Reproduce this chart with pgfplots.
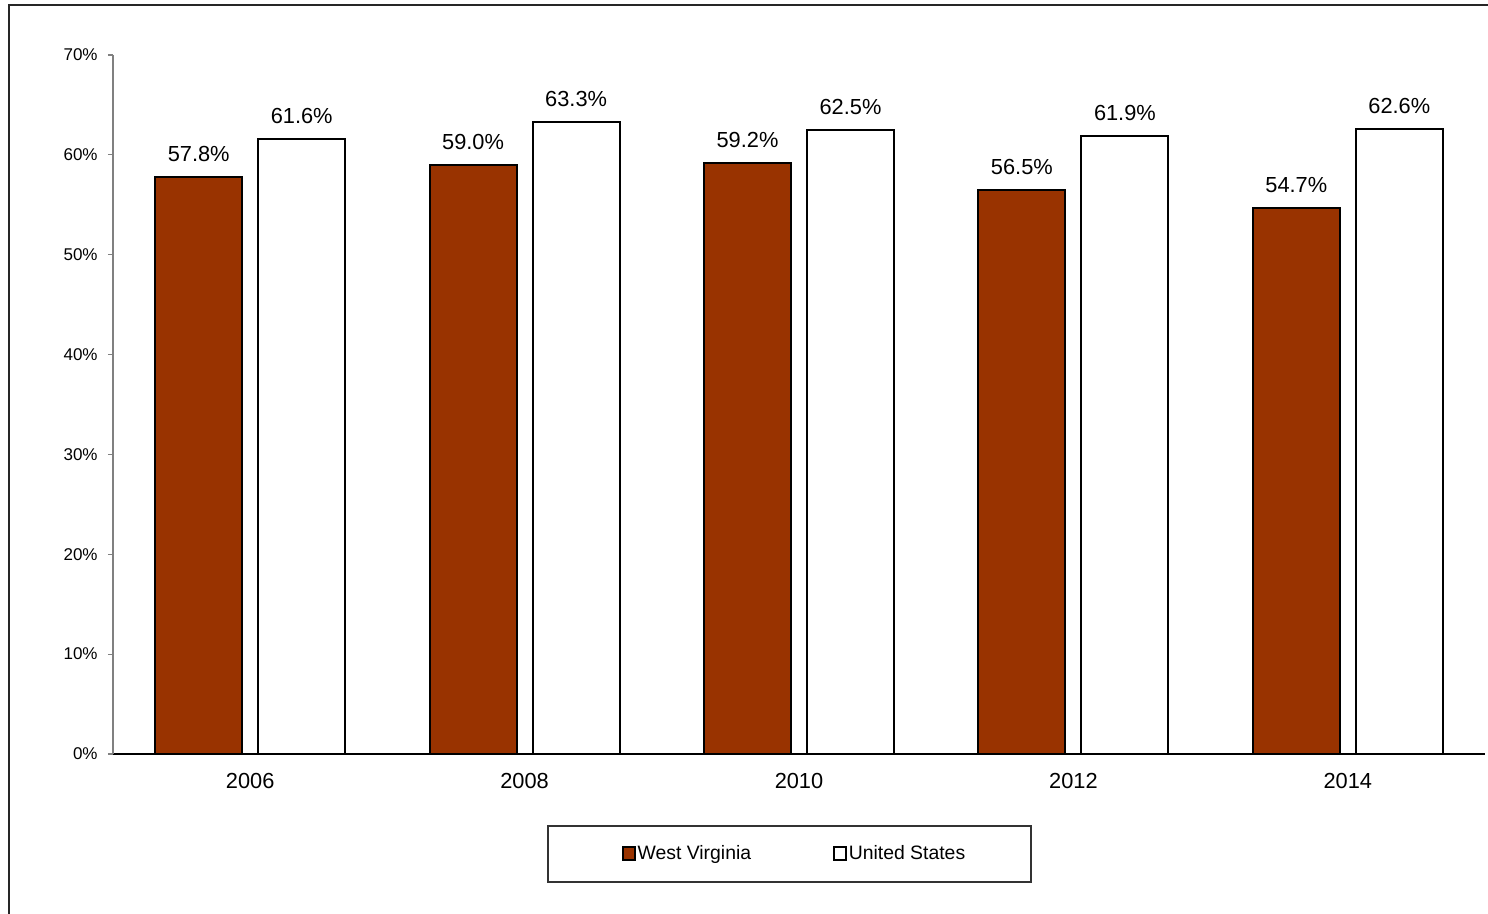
\documentclass[border=0pt]{standalone}
\usepackage{pgfplots}
\pgfplotsset{compat=1.18}
\usepackage{fontspec}
\setmainfont{Liberation Sans}
\definecolor{wv}{HTML}{993300}

\begin{document}
\begin{tikzpicture}
\path[use as bounding box] (0,0) rectangle (744pt,457pt);
% outer chart frame (only left and top edges visible)
\draw[black!85, line width=0.6pt] (4.5pt,0) -- (4.5pt,454.5pt) -- (744pt,454.5pt);
\begin{axis}[
  at={(56.5pt,80pt)}, anchor=south west,
  scale only axis, width=686pt, height=349.5pt,
  ybar, bar width=0.317,
  xmin=-0.5, xmax=4.5, ymin=0, ymax=70,
  axis x line=bottom, axis y line=left,
  x axis line style={-, black, line width=0.6pt},
  y axis line style={-, gray, line width=0.6pt},
  xtick={0,...,4}, xticklabels={2006,2008,2010,2012,2014},
  xtick style={draw=none},
  ytick={0,10,...,70},
  yticklabels={0\%,10\%,20\%,30\%,40\%,50\%,60\%,70\%},
  ytick style={gray, line width=0.6pt},
  tick align=outside, major tick length=2.5pt,
  xticklabel style={font=\fontsize{10.9}{12}\selectfont, inner sep=0pt, yshift=-7pt},
  yticklabel style={font=\fontsize{8.5}{10}\selectfont, inner sep=0pt, xshift=-5pt},
  nodes near coords={\pgfmathprintnumber[fixed,fixed zerofill,precision=1]{\pgfplotspointmeta}\%},
  every node near coord/.append style={font=\fontsize{10.9}{12}\selectfont, inner sep=0pt, anchor=south, yshift=7pt, black},
  /pgf/number format/assume math mode=true,
  legend columns=2,
  legend style={at={(0.4965,-0.1431)}, anchor=center, draw=none, fill=none,
    font=\fontsize{9.7}{11}\selectfont, nodes={inner sep=0.8pt},
    /tikz/every even column/.append style={column sep=40pt}},
  legend image code/.code={\draw[#1, line width=1pt] (0pt,-3.1pt) rectangle (6.2pt,3.3pt);},
  clip=false,
]
\addplot[fill=wv, draw=black, line width=1pt, bar shift=-0.1877]
  coordinates {(0,57.8) (1,59.0) (2,59.2) (3,56.5) (4,54.7)};
\addlegendentry{West Virginia}
\addplot[fill=white, draw=black, line width=1pt, bar shift=0.1877]
  coordinates {(0,61.6) (1,63.3) (2,62.5) (3,61.9) (4,62.6)};
\addlegendentry{United States}
\end{axis}
% legend frame
\draw[black!80, line width=0.6pt] (274pt,16pt) rectangle (515.5pt,44pt);
\end{tikzpicture}
\end{document}
